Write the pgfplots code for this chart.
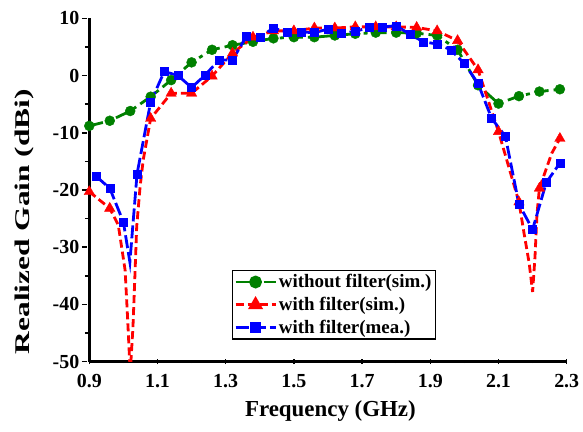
\documentclass[border=0pt]{standalone}
\usepackage{fontspec}
\setmainfont{Liberation Serif}
\usepackage{pgfplots}
\pgfplotsset{compat=1.18}
\definecolor{dgreen}{RGB}{0,128,0}
\tikzset{
  gsty/.style={dgreen, line width=2.8bp, dash pattern=on 14bp off 5bp on 4bp off 5bp},
  rsty/.style={red, line width=2.8bp, dash pattern=on 8bp off 4bp},
  bsty/.style={blue, line width=2.8bp, dash pattern=on 13bp off 4bp},
}
\begin{document}
\begin{tikzpicture}
\begin{axis}[
  scale only axis,
  width=477.4bp, height=343.4bp,
  xmin=0.9, xmax=2.3, ymin=-50, ymax=10,
  axis x line=bottom, axis y line=left,
  axis line style={line width=2.5bp, -},
  xtick={0.9,1.1,1.3,1.5,1.7,1.9,2.1,2.3},
  ytick={-50,-40,-30,-20,-10,0,10},
  minor x tick num=1, minor y tick num=1,
  major tick length=5bp, minor tick length=3bp,
  tick style={line width=1.5bp, black},
  every major y tick/.append style={xshift=-5bp},
  every minor y tick/.append style={xshift=-3bp},
  /pgf/number format/assume math mode=true,
  /pgf/number format/fixed,
  tick label style={font=\fontsize{20}{23}\selectfont\bfseries},
  yticklabel style={xshift=-4bp},
  xticklabel style={yshift=-7bp},
  xlabel={Frequency (GHz)}, ylabel={Realized Gain (dBi)},
  xlabel style={font=\fontsize{23}{26}\selectfont\bfseries, at={(axis description cs:0.505,-0.1436)}, anchor=center},
  ylabel style={font=\fontsize{21}{24}\selectfont\bfseries, at={(axis description cs:-0.1368,0.408)}, anchor=center, xscale=1.5},
  legend style={at={(0.298,0.267)}, anchor=north west, draw=black, line width=1.2bp,
    font=\fontsize{19}{23}\selectfont\bfseries, inner sep=2bp, row sep=4bp, cells={anchor=west}},
  legend image code/.code={\draw[mark repeat=2,mark phase=2,#1] plot coordinates {(0bp,0bp)(20bp,0bp)(40bp,0bp)};},
  clip=true,
]
\addlegendimage{gsty, mark=*, mark options={solid, mark size=5bp}}
\addlegendentry{without filter(sim.)}
\addlegendimage{rsty, mark=triangle*, mark options={solid, mark size=6bp}}
\addlegendentry{with filter(sim.)}
\addlegendimage{bsty, mark=square*, mark options={solid, mark size=4bp}}
\addlegendentry{with filter(mea.)}

% green: without filter (sim.)
\addplot[gsty, no markers, forget plot] table {
x y
0.90 -8.8
0.96 -7.9
1.02 -6.2
1.08 -3.7
1.14 -0.8
1.20 2.3
1.26 4.5
1.32 5.3
1.38 5.9
1.44 6.5
1.50 6.7
1.56 6.7
1.62 7.0
1.68 7.3
1.74 7.5
1.80 7.5
1.86 7.4
1.92 7.0
1.98 4.5
2.04 -1.7
2.10 -4.9
2.16 -3.6
2.22 -2.8
2.28 -2.4
};
\addplot[only marks, mark=*, dgreen, mark size=5bp, mark options={solid}, forget plot] table {
x y
0.90 -8.8
0.96 -7.9
1.02 -6.2
1.08 -3.7
1.14 -0.8
1.20 2.3
1.26 4.5
1.32 5.3
1.38 5.9
1.44 6.5
1.50 6.7
1.56 6.7
1.62 7.0
1.68 7.3
1.74 7.5
1.80 7.5
1.86 7.4
1.92 7.0
1.98 4.5
2.04 -1.7
2.10 -4.9
2.16 -3.6
2.22 -2.8
2.28 -2.4
};

% red: with filter (sim.)
\addplot[rsty, no markers, forget plot] table {
x y
0.90 -20.3
0.96 -23.2
0.985 -26.1
1.005 -34
1.012 -42
1.020 -52
1.028 -44
1.034 -34.6
1.039 -26.4
1.049 -19.4
1.058 -14.8
1.08 -7.5
1.14 -3.1
1.20 -3.1
1.26 -0.1
1.32 3.9
1.38 6.7
1.44 7.8
1.50 7.8
1.56 8.3
1.62 8.3
1.68 8.5
1.74 8.5
1.80 8.5
1.86 8.4
1.92 7.8
1.98 6.1
2.04 1.0
2.10 -9.8
2.16 -22.1
2.175 -27.6
2.19 -32.8
2.200 -37.8
2.207 -31.7
2.213 -24.1
2.22 -19.7
2.256 -13.6
2.28 -11.0
};
\addplot[only marks, mark=triangle*, red, mark size=6bp, mark options={solid}, forget plot] table {
x y
0.90 -20.3
0.96 -23.2
1.08 -7.5
1.14 -3.1
1.20 -3.1
1.26 -0.1
1.32 3.9
1.38 6.7
1.44 7.8
1.50 7.8
1.56 8.3
1.62 8.3
1.68 8.5
1.74 8.5
1.80 8.5
1.86 8.4
1.92 7.8
1.98 6.1
2.04 1.0
2.10 -9.8
2.16 -22.1
2.22 -19.7
2.28 -11.0
};

% blue: with filter (mea.)
\addplot[bsty, no markers, forget plot] table {
x y
0.92 -17.6
0.96 -19.7
1.00 -25.6
1.019 -32.6
1.04 -17.2
1.08 -4.6
1.12 0.7
1.16 0.0
1.20 -2.1
1.24 0.1
1.28 2.7
1.32 2.7
1.36 6.8
1.40 6.7
1.44 8.3
1.48 7.6
1.52 7.6
1.56 7.5
1.60 8.1
1.64 7.4
1.68 7.7
1.72 8.4
1.76 8.5
1.80 8.7
1.84 7.2
1.88 5.9
1.92 5.5
1.96 4.5
2.00 2.1
2.04 -1.4
2.08 -7.5
2.12 -10.6
2.16 -22.5
2.20 -26.9
2.24 -18.7
2.28 -15.3
};
\addplot[only marks, mark=square*, blue, mark size=4bp, mark options={solid}, forget plot] table {
x y
0.92 -17.6
0.96 -19.7
1.00 -25.6
1.04 -17.2
1.08 -4.6
1.12 0.7
1.16 0.0
1.20 -2.1
1.24 0.1
1.28 2.7
1.32 2.7
1.36 6.8
1.40 6.7
1.44 8.3
1.48 7.6
1.52 7.6
1.56 7.5
1.60 8.1
1.64 7.4
1.68 7.7
1.72 8.4
1.76 8.5
1.80 8.7
1.84 7.2
1.88 5.9
1.92 5.5
1.96 4.5
2.00 2.1
2.04 -1.4
2.08 -7.5
2.12 -10.6
2.16 -22.5
2.20 -26.9
2.24 -18.7
2.28 -15.3
};
\end{axis}
\pgfresetboundingbox
\path ([shift={(-89.3bp,-70.3bp)}]current axis.south west) rectangle ([shift={(493.7bp,361.7bp)}]current axis.south west);
\end{tikzpicture}
\end{document}
